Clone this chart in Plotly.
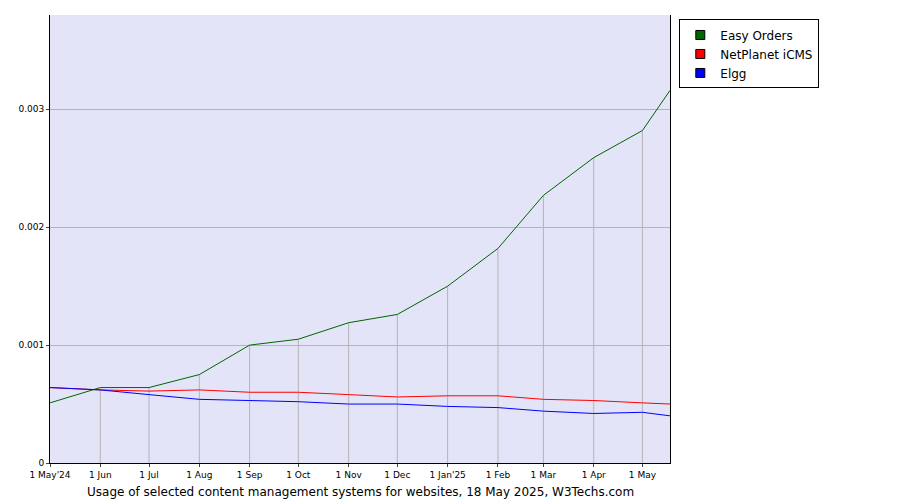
import plotly.graph_objects as go

dates = ["2024-05-01","2024-06-01","2024-07-01","2024-08-01","2024-09-01","2024-10-01","2024-11-01",
         "2024-12-01","2025-01-01","2025-02-01","2025-03-01","2025-04-01","2025-05-01","2025-05-18"]
tick_labels = ["1 May'24","1 Jun","1 Jul","1 Aug","1 Sep","1 Oct","1 Nov","1 Dec","1 Jan'25","1 Feb","1 Mar","1 Apr","1 May"]
easy_orders = [0.00051,0.00064,0.00064,0.00075,0.00100,0.00105,0.00119,0.00126,0.00150,0.00182,0.00227,0.00259,0.00282,0.00316]
netplanet = [0.00064,0.00062,0.00061,0.00062,0.00060,0.00060,0.00058,0.00056,0.00057,0.00057,0.00054,0.00053,0.00051,0.00050]
elgg = [0.00064,0.00062,0.00058,0.00054,0.00053,0.00052,0.00050,0.00050,0.00048,0.00047,0.00044,0.00042,0.00043,0.00040]

fig = go.Figure()
dx, dy = [], []
for i in range(1, len(tick_labels)):
    m = max(easy_orders[i], netplanet[i], elgg[i])
    dx += [dates[i], dates[i], None]
    dy += [0, m, None]
fig.add_trace(go.Scatter(x=dx, y=dy, mode="lines", line=dict(color="#b4b4b4", width=1),
                         showlegend=False, hoverinfo="skip"))
series = [("Easy Orders", easy_orders, "#006400"), ("NetPlanet iCMS", netplanet, "#ff0000"), ("Elgg", elgg, "#0000ff")]
for name, vals, col in series:
    fig.add_trace(go.Scatter(x=dates, y=vals, mode="lines", name=name, line=dict(color=col, width=1), showlegend=False))
for name, vals, col in series:
    fig.add_trace(go.Scatter(x=[None], y=[None], mode="markers", name=name,
                             marker=dict(symbol="square", size=9, color=col, line=dict(color="black", width=1))))

fig.update_layout(
    width=900, height=500, paper_bgcolor="white", plot_bgcolor="#e4e4f8",
    margin=dict(l=42, r=238, t=7, b=45),
    font=dict(family="DejaVu Sans", size=10, color="black"),
    xaxis=dict(type="date", range=[dates[0], dates[-1]], tickvals=dates[:13], ticktext=tick_labels,
               showgrid=False, showline=True, linecolor="black", ticks="outside", ticklen=3, tickfont=dict(size=9)),
    yaxis=dict(range=[0, 0.0038], tickvals=[0, 0.001, 0.002, 0.003], ticktext=["0", "0.001", "0.002", "0.003"],
               showgrid=True, gridcolor="#b4b4b4", showline=True, linecolor="black", ticks="outside", ticklen=3,
               mirror=True, tickfont=dict(size=9)),
    legend=dict(x=1.015, y=0.99, xanchor="left", yanchor="top", bordercolor="black", borderwidth=1,
                bgcolor="white", font=dict(size=12), tracegroupgap=0, itemwidth=30),
    annotations=[dict(text="Usage of selected content management systems for websites, 18 May 2025, W3Techs.com",
                      x=0.5, y=-0.045, xref="paper", yref="paper", showarrow=False, yanchor="top",
                      font=dict(size=12))],
)
fig.write_html("out.html")
